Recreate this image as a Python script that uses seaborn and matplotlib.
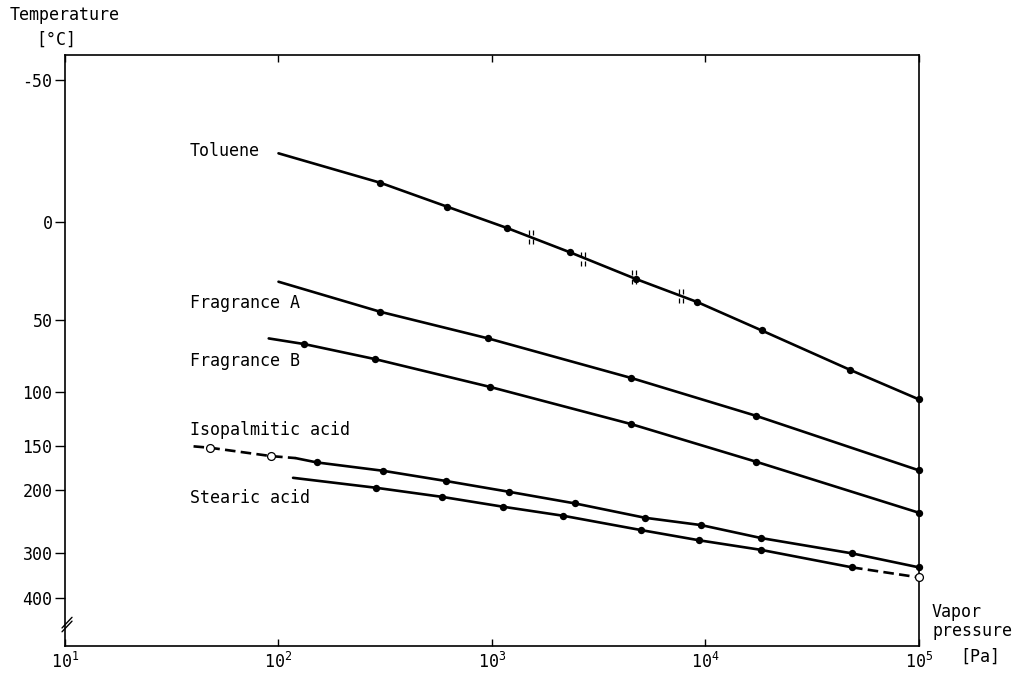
import numpy as np
import pandas as pd
import seaborn as sns
import matplotlib.pyplot as plt
from matplotlib.path import Path
from matplotlib.ticker import NullLocator

# values: pressure in Pa, temperature in deg C
toluene_p = [100, 300, 617, 1172, 2323, 4732, 9162, 18330, 47420, 100000]
toluene_t = [-26.7, -15.9, -6.4, 2.6, 13.8, 27.1, 39.6, 56.5, 83.2, 106.4]
toluene_ref_p = [1524, 2673, 4645, 7709]
toluene_ref_t = [6.7, 17.0, 26.1, 36.3]

frag_a_p = [100, 300, 960, 4500, 17200, 100000]
frag_a_t = [28.5, 45.2, 61.6, 89.4, 120.5, 176.4]

frag_b_p = [90, 132, 284, 975, 4480, 17300, 100000]
frag_b_t = [61.6, 65.3, 75.6, 96.2, 128.1, 166.6, 232.1]

iso_p = [120, 151, 309, 612, 1200, 2440, 5210, 9550, 18280, 48600, 100000]
iso_t = [162.5, 167.3, 176.9, 189.3, 202.9, 218.6, 239.6, 251.0, 272.5, 300.1, 328.0]
iso_dash_p = [40, 48, 92, 120]
iso_dash_t = [150.0, 151.5, 160.3, 162.5]
iso_open_p = [48, 92]
iso_open_t = [151.5, 160.3]

stearic_p = [117, 286, 581, 1130, 2160, 4990, 9375, 18130, 48600]
stearic_t = [185.3, 197.7, 209.6, 223.4, 236.6, 259.0, 276.4, 293.4, 328.0]
stearic_dash_p = [48600, 100000]
stearic_dash_t = [328.0, 349.7]
stearic_open_p = [100000]
stearic_open_t = [349.7]

names = ['Toluene', 'Fragrance A', 'Fragrance B', 'Isopalmitic acid', 'Stearic acid']
name_y = [0.838, 0.580, 0.483, 0.366, 0.250]  # label heights, axes fraction
temp_ticks = [-50, 0, 50, 100, 150, 200, 300, 400]
p_ticks = [1e1, 1e2, 1e3, 1e4, 1e5]
p_labels = [r'$\mathregular{10^{%d}}$' % i for i in range(1, 6)]

sns.set_style('ticks')
plt.rcParams['font.family'] = ['DejaVu Sans Mono', 'DejaVu Sans']
plt.rcParams['axes.unicode_minus'] = False
plt.rcParams['text.color'] = 'k'


def fwd(t):
    # reciprocal absolute temperature (Clausius-Clapeyron axis)
    with np.errstate(divide='ignore', invalid='ignore'):
        return -1000.0 / (np.asarray(t, dtype=float) + 273.15)


def inv(v):
    with np.errstate(divide='ignore', invalid='ignore'):
        return -1000.0 / np.asarray(v, dtype=float) - 273.15


def seg(name, p, t, kind):
    return pd.DataFrame({'p': p, 't': t, 'seg': name, 'kind': kind})


lines = pd.concat([
    seg('tol', toluene_p, toluene_t, 'solid'),
    seg('fa', frag_a_p, frag_a_t, 'solid'),
    seg('fb', frag_b_p, frag_b_t, 'solid'),
    seg('iso', iso_p, iso_t, 'solid'),
    seg('iso_d', iso_dash_p, iso_dash_t, 'dashed'),
    seg('st', stearic_p, stearic_t, 'solid'),
    seg('st_d', stearic_dash_p, stearic_dash_t, 'dashed'),
], ignore_index=True)

dots = pd.concat([
    seg('tol', toluene_p[1:], toluene_t[1:], 'dot'),
    seg('fa', frag_a_p[1:], frag_a_t[1:], 'dot'),
    seg('fb', frag_b_p[1:], frag_b_t[1:], 'dot'),
    seg('iso', iso_p[1:], iso_t[1:], 'dot'),
    seg('st', stearic_p[1:], stearic_t[1:], 'dot'),
], ignore_index=True)

opens = pd.concat([
    seg('iso', iso_open_p, iso_open_t, 'open'),
    seg('st', stearic_open_p, stearic_open_t, 'open'),
], ignore_index=True)

refs = seg('tol_ref', toluene_ref_p, toluene_ref_t, 'ref')

fig = plt.figure(figsize=(10.27, 6.75), dpi=100)
ax = fig.add_axes([0.0633, 0.0430, 0.8315, 0.8756])
ax.set_xscale('log')
ax.set_yscale('function', functions=(fwd, inv))

sns.lineplot(data=lines, x='p', y='t', units='seg', style='kind',
             dashes={'solid': '', 'dashed': (4, 2)}, estimator=None,
             color='k', linewidth=1.9, legend=False, ax=ax)
sns.scatterplot(data=dots, x='p', y='t', color='k', s=28, linewidth=0,
                legend=False, ax=ax, zorder=3, clip_on=False)
sns.scatterplot(data=opens, x='p', y='t', s=32, facecolor='white',
                edgecolor='k', linewidth=0.9, legend=False, ax=ax,
                zorder=4, clip_on=False)

# little double bars crossing the toluene line
hash_mark = Path([(-0.35, 0.4), (-0.35, 1.2), (0.35, 0.4), (0.35, 1.2),
                  (-0.35, -0.4), (-0.35, -1.2), (0.35, -0.4), (0.35, -1.2)],
                 [Path.MOVETO, Path.LINETO] * 4)
sns.scatterplot(data=refs, x='p', y='t', marker=hash_mark, s=100,
                color='k', edgecolor='k', linewidth=0.9, legend=False,
                ax=ax, zorder=3)

ax.set_xlim(10, 1e5)
ax.set_ylim(554, -57)
ax.set_xticks(p_ticks)
ax.set_xticklabels(p_labels)
ax.set_yticks(temp_ticks)
ax.set_yticklabels([str(v) for v in temp_ticks])
ax.xaxis.set_minor_locator(NullLocator())
ax.yaxis.set_minor_locator(NullLocator())
ax.tick_params(axis='x', direction='in', length=5, width=1, top=True,
               pad=4, labelsize=12, colors='k')
ax.tick_params(axis='y', direction='out', length=7, width=1, pad=2,
               labelsize=12, colors='k')
ax.set_xlabel('')
ax.set_ylabel('')
for sp in ax.spines.values():
    sp.set_linewidth(1.2)
    sp.set_color('k')

for name, y in zip(names, name_y):
    ax.text(0.1458, y, name, transform=ax.transAxes, fontsize=12,
            ha='left', va='center', color='k')

# axis break on the temperature axis
for off in (0.0, 0.0065):
    ax.plot([-0.0035, 0.0082], [0.024 + off, 0.042 + off], color='k',
            lw=1.0, transform=ax.transAxes, clip_on=False)

fig.text(0.0097, 0.978, 'Temperature', fontsize=12, ha='left', va='center')
fig.text(0.0545, 0.941, '[°C]', fontsize=12, ha='center', va='center')
fig.text(0.9075, 0.093, 'Vapor', fontsize=12, ha='left', va='center')
fig.text(0.9075, 0.065, 'pressure', fontsize=12, ha='left', va='center')
fig.text(0.935, 0.027, '[Pa]', fontsize=12, ha='left', va='center')

fig.savefig('out.png', dpi=100, facecolor='white')
